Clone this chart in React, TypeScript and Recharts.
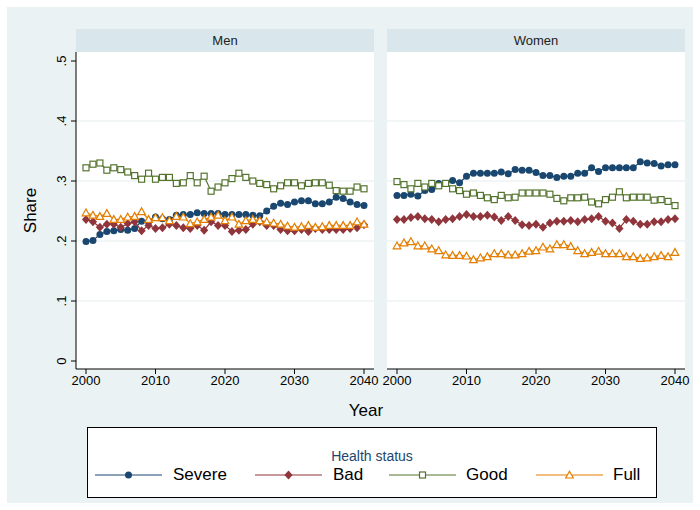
import { LineChart, Line, XAxis, YAxis, CartesianGrid, ReferenceLine } from 'recharts';

const years = [
  2000, 2001, 2002, 2003, 2004, 2005, 2006, 2007, 2008, 2009,
  2010, 2011, 2012, 2013, 2014, 2015, 2016, 2017, 2018, 2019,
  2020, 2021, 2022, 2023, 2024, 2025, 2026, 2027, 2028, 2029,
  2030, 2031, 2032, 2033, 2034, 2035, 2036, 2037, 2038, 2039, 2040,
];

const menSevere = [
  0.199, 0.201, 0.211, 0.216, 0.217, 0.219, 0.218, 0.221, 0.233, 0.232,
  0.240, 0.237, 0.236, 0.243, 0.244, 0.244, 0.247, 0.246, 0.246, 0.246,
  0.244, 0.244, 0.244, 0.244, 0.243, 0.242, 0.250, 0.258, 0.263, 0.261,
  0.265, 0.267, 0.267, 0.262, 0.262, 0.265, 0.273, 0.271, 0.265, 0.261, 0.259,
];
const menBad = [
  0.236, 0.232, 0.223, 0.228, 0.228, 0.223, 0.229, 0.232, 0.217, 0.226,
  0.221, 0.222, 0.228, 0.226, 0.222, 0.221, 0.226, 0.218, 0.232, 0.226,
  0.226, 0.216, 0.218, 0.219, 0.228, 0.232, 0.226, 0.226, 0.219, 0.217,
  0.217, 0.219, 0.216, 0.221, 0.219, 0.219, 0.219, 0.219, 0.221, 0.222, 0.227,
];
const menGood = [
  0.322, 0.328, 0.330, 0.318, 0.322, 0.319, 0.315, 0.309, 0.303, 0.313,
  0.303, 0.306, 0.306, 0.296, 0.297, 0.309, 0.297, 0.308, 0.283, 0.290,
  0.297, 0.304, 0.313, 0.306, 0.300, 0.296, 0.294, 0.287, 0.292, 0.297,
  0.297, 0.292, 0.296, 0.297, 0.297, 0.293, 0.284, 0.283, 0.283, 0.290, 0.287,
];
const menFull = [
  0.247, 0.243, 0.241, 0.246, 0.236, 0.236, 0.240, 0.241, 0.249, 0.236,
  0.239, 0.239, 0.234, 0.241, 0.240, 0.229, 0.232, 0.236, 0.240, 0.243,
  0.234, 0.240, 0.228, 0.234, 0.236, 0.234, 0.232, 0.230, 0.228, 0.225,
  0.223, 0.224, 0.226, 0.223, 0.224, 0.226, 0.226, 0.226, 0.226, 0.232, 0.228,
];

const womenSevere = [
  0.276, 0.276, 0.278, 0.275, 0.284, 0.286, 0.296, 0.296, 0.301, 0.297,
  0.308, 0.313, 0.313, 0.313, 0.313, 0.315, 0.312, 0.319, 0.318, 0.318,
  0.314, 0.309, 0.309, 0.306, 0.308, 0.308, 0.313, 0.313, 0.322, 0.316,
  0.322, 0.322, 0.322, 0.322, 0.322, 0.332, 0.330, 0.329, 0.325, 0.327, 0.327,
];
const womenBad = [
  0.236, 0.236, 0.239, 0.241, 0.237, 0.236, 0.232, 0.236, 0.237, 0.241,
  0.244, 0.241, 0.241, 0.243, 0.240, 0.234, 0.241, 0.234, 0.227, 0.226,
  0.228, 0.223, 0.230, 0.233, 0.233, 0.234, 0.232, 0.236, 0.237, 0.241,
  0.233, 0.230, 0.221, 0.236, 0.233, 0.228, 0.228, 0.232, 0.232, 0.236, 0.237,
];
const womenGood = [
  0.299, 0.294, 0.287, 0.296, 0.290, 0.296, 0.292, 0.296, 0.287, 0.284,
  0.278, 0.280, 0.276, 0.272, 0.269, 0.276, 0.272, 0.273, 0.280, 0.280,
  0.280, 0.280, 0.278, 0.271, 0.267, 0.272, 0.272, 0.273, 0.265, 0.262,
  0.269, 0.273, 0.282, 0.272, 0.273, 0.273, 0.273, 0.268, 0.269, 0.266, 0.259,
];
const womenFull = [
  0.192, 0.197, 0.199, 0.192, 0.192, 0.187, 0.184, 0.177, 0.176, 0.176,
  0.175, 0.169, 0.172, 0.174, 0.179, 0.179, 0.177, 0.177, 0.179, 0.183,
  0.184, 0.190, 0.187, 0.194, 0.194, 0.191, 0.184, 0.179, 0.181, 0.183,
  0.179, 0.179, 0.179, 0.174, 0.174, 0.171, 0.172, 0.174, 0.176, 0.174, 0.181,
];

const xTicks = [2000, 2010, 2020, 2030, 2040];
const yTicks = [0, 0.1, 0.2, 0.3, 0.4, 0.5];
const yTickLabels = ['0', '.1', '.2', '.3', '.4', '.5'];
const gridValues = [0.1, 0.2, 0.3, 0.4];
const seriesKeys = ['severe', 'bad', 'good', 'full'];
const seriesLabels = ['Severe', 'Bad', 'Good', 'Full'];

const FONT = '"Liberation Sans", Arial, sans-serif';
const NAVY = '#1A476F';
const MAROON = '#90353B';
const GREEN = '#55752F';
const ORANGE = '#E37E00';
const BG = '#EAF2F3';
const STRIP = '#D9E6EB';
const GRID = '#E6EEF0';

const seriesColors: Record<string, string> = {
  severe: NAVY,
  bad: MAROON,
  good: GREEN,
  full: ORANGE,
};

const buildRows = (s: number[], b: number[], g: number[], f: number[]) =>
  years.map((year, i) => ({ year, severe: s[i], bad: b[i], good: g[i], full: f[i] }));

const menRows = buildRows(menSevere, menBad, menGood, menFull);
const womenRows = buildRows(womenSevere, womenBad, womenGood, womenFull);

// marker shapes (Stata: circle, diamond, hollow square, hollow triangle)
const Marker = ({ kind, cx, cy }: { kind: string; cx: number; cy: number }) => {
  if (kind === 'severe') return <circle cx={cx} cy={cy} r={3.5} fill={NAVY} />;
  if (kind === 'bad')
    return (
      <polygon
        points={`${cx},${cy - 4.5} ${cx + 4.1},${cy} ${cx},${cy + 4.5} ${cx - 4.1},${cy}`}
        fill={MAROON}
      />
    );
  if (kind === 'good')
    return <rect x={cx - 3} y={cy - 3} width={6} height={6} fill="#fff" stroke={GREEN} strokeWidth={1.2} />;
  return (
    <polygon
      points={`${cx},${cy - 3.8} ${cx + 3.8},${cy + 3} ${cx - 3.8},${cy + 3}`}
      fill="#fff"
      stroke={ORANGE}
      strokeWidth={1.2}
    />
  );
};

const makeDot = (kind: string) => (props: any) => {
  const { cx, cy, index } = props;
  if (cx == null || cy == null) return <g key={`${kind}-${index}`} />;
  return (
    <g key={`${kind}-${index}`}>
      <Marker kind={kind} cx={cx} cy={cy} />
    </g>
  );
};

const YTick = (props: any) => {
  const { y, payload } = props;
  const label = yTickLabels[yTicks.indexOf(payload.value)];
  return (
    <text
      x={61}
      y={y}
      transform={`rotate(-90, 61, ${y})`}
      textAnchor="middle"
      dominantBaseline="central"
      fontSize={13}
      fontFamily={FONT}
      fill="#000"
    >
      {label}
    </text>
  );
};

interface PanelProps {
  title: string;
  rows: ReturnType<typeof buildRows>;
  left: number;
  width: number;
  withYAxis: boolean;
}

const Panel = ({ title, rows, left, width, withYAxis }: PanelProps) => {
  const plotLeft = withYAxis ? 76 : 6;
  return (
    <div style={{ position: 'absolute', left, top: 0, width, height: 400 }}>
      <div
        style={{
          position: 'absolute',
          left: plotLeft,
          top: 29,
          width: width - plotLeft - 6,
          height: 23,
          background: STRIP,
          fontFamily: FONT,
          fontSize: 13,
          color: '#222',
          textAlign: 'center',
          lineHeight: '24px',
        }}
      >
        {title}
      </div>
      <LineChart
        width={width}
        height={400}
        data={rows}
        margin={{ top: 52, right: 6, bottom: 0, left: withYAxis ? 0 : 6 }}
      >
        <CartesianGrid horizontal={false} vertical={false} fill="#FFFFFF" fillOpacity={1} />
        {gridValues.map((v) => (
          <ReferenceLine key={v} y={v} stroke={GRID} strokeWidth={1.2} />
        ))}
        <XAxis
          dataKey="year"
          type="number"
          domain={[2000, 2040]}
          ticks={xTicks}
          interval={0}
          padding={{ left: 10, right: 10 }}
          height={31}
          axisLine={{ stroke: '#000' }}
          tickLine={{ stroke: '#000' }}
          tickSize={5}
          tick={{ fontSize: 13, fill: '#000', fontFamily: FONT }}
        />
        <YAxis
          type="number"
          domain={[0, 0.5]}
          ticks={yTicks}
          interval={0}
          hide={!withYAxis}
          width={76}
          padding={{ top: 9, bottom: 8 }}
          axisLine={{ stroke: '#000' }}
          tickLine={{ stroke: '#000' }}
          tickSize={5}
          tick={<YTick />}
          label={{
            value: 'Share',
            angle: -90,
            position: 'insideLeft',
            offset: 30,
            style: { fontSize: 17, fill: '#000', fontFamily: FONT, textAnchor: 'middle' },
          }}
        />
        {seriesKeys.map((key) => (
          <Line
            key={key}
            type="linear"
            dataKey={key}
            stroke={seriesColors[key]}
            strokeWidth={1.2}
            dot={makeDot(key)}
            activeDot={false}
            isAnimationActive={false}
          />
        ))}
      </LineChart>
    </div>
  );
};

const legendItems = [
  { key: 'severe', lineLeft: 7, textLeft: 85 },
  { key: 'bad', lineLeft: 167, textLeft: 245 },
  { key: 'good', lineLeft: 301, textLeft: 378 },
  { key: 'full', lineLeft: 448, textLeft: 525 },
];

const Legend = () => (
  <div
    style={{
      position: 'absolute',
      left: 87,
      top: 427,
      width: 568,
      height: 69,
      border: '1px solid #000',
      background: '#fff',
      fontFamily: FONT,
    }}
  >
    <div
      style={{
        position: 'absolute',
        left: 0,
        width: '100%',
        top: 20,
        textAlign: 'center',
        fontSize: 14,
        color: NAVY,
      }}
    >
      Health status
    </div>
    {legendItems.map((item, i) => (
      <div key={item.key}>
        <svg
          style={{ position: 'absolute', left: item.lineLeft, top: 39 }}
          width={68}
          height={16}
        >
          <line x1={0} y1={8} x2={67} y2={8} stroke={seriesColors[item.key]} strokeWidth={1.2} />
          <Marker kind={item.key} cx={33.5} cy={8} />
        </svg>
        <div
          style={{
            position: 'absolute',
            left: item.textLeft,
            top: 37,
            fontSize: 17,
            color: '#000',
            lineHeight: '20px',
          }}
        >
          {seriesLabels[i]}
        </div>
      </div>
    ))}
  </div>
);

const App = () => (
  <div
    style={{
      position: 'absolute',
      left: 0,
      top: 0,
      width: 700,
      height: 510,
      background: '#fff',
      overflow: 'hidden',
    }}
  >
    <div style={{ position: 'absolute', left: 7, top: 7, width: 686, height: 496, background: BG }} />
    <Panel title="Men" rows={menRows} left={0} width={380} withYAxis />
    <Panel title="Women" rows={womenRows} left={381} width={310} withYAxis={false} />
    <div
      style={{
        position: 'absolute',
        left: 316,
        width: 100,
        top: 401,
        textAlign: 'center',
        fontFamily: FONT,
        fontSize: 17,
        color: '#000',
      }}
    >
      Year
    </div>
    <Legend />
  </div>
);

export default App;
